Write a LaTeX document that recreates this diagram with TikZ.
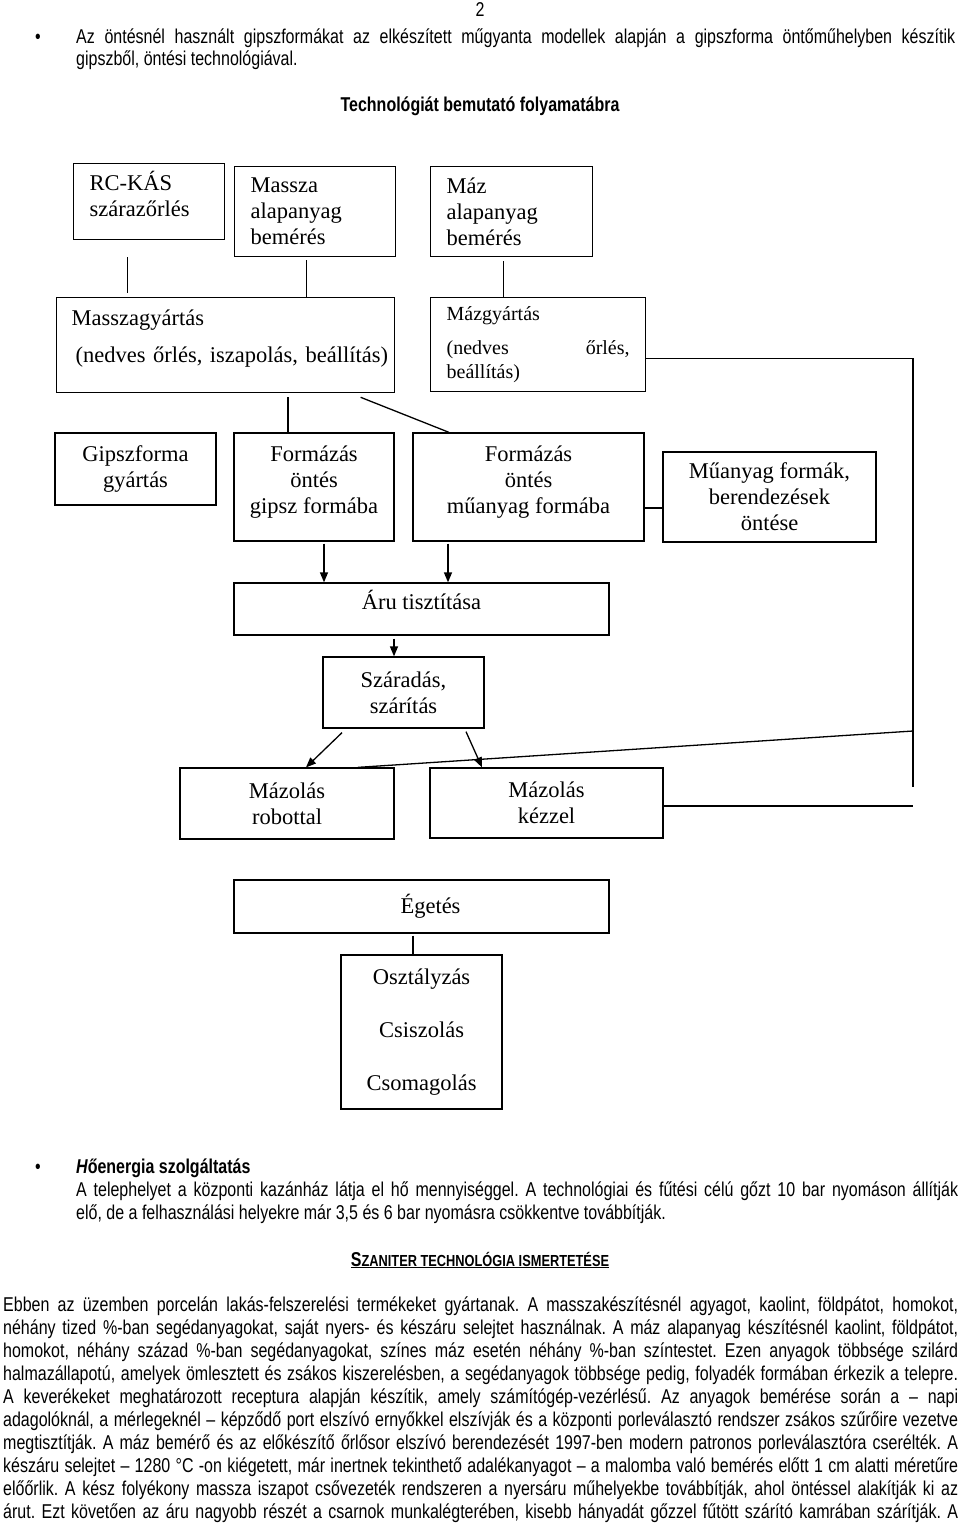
\documentclass[tikz,border=0pt]{standalone}
\usepackage{fontspec}
\setmainfont{Liberation Serif}
\newfontfamily\sansf{Liberation Sans}[FakeStretch=0.8]
\usetikzlibrary{positioning,arrows.meta}

\newcommand{\bodyfont}{\sansf\fontsize{20}{23}\selectfont\frenchspacing}
\newcommand{\flowfont}{\fontsize{22.5}{26}\selectfont}
\newcommand{\smallflowfont}{\fontsize{20}{24}\selectfont}
\newcommand{\jline}[2]{\makebox[#1pt][s]{#2}}

\begin{document}
\begin{tikzpicture}[x=1pt, y=-1pt]
    % Define styles
    \tikzstyle{box}=[rectangle, draw=black, line width=1.3pt, inner sep=0pt, align=center, font=\flowfont]
    \tikzstyle{lbox}=[box, anchor=north west, align=left, inner xsep=16pt]
    \tikzstyle{txt}=[inner sep=0pt, font=\bodyfont, anchor=base west]
    \tikzstyle{link}=[line width=1.3pt]
    \tikzstyle{arrow}=[->, line width=1.3pt, >={Triangle[length=10pt, width=8pt]}]

    \useasboundingbox (0,0) rectangle (960,1524);

    % Page head
    \node[txt, anchor=base] (pagenum) at (480,16) {2};
    \node[txt, anchor=base] (bullet1) at (38,43) {•};
    \node[txt] (intro1) at (76,43) {\jline{879}{Az öntésnél használt gipszformákat az elkészített műgyanta modellek alapján a gipszforma öntőműhelyben készítik}};
    \node[txt] (intro2) at (76,65) {gipszből, öntési technológiával.};
    \node[txt, anchor=base] (title) at (480,111) {\bfseries Technológiát bemutató folyamatábra};

    % Raw materials
    \node[lbox, text width=119pt, minimum height=76pt, text height=15pt, text depth=37pt] (rc) at (73,163) {RC-KÁS\\szárazőrlés};
    \node[lbox, text width=129pt, minimum height=90pt] (massza) at (234,166) {Massza\\alapanyag\\bemérés};
    \node[lbox, text width=130pt, minimum height=90pt] (maz) at (430,166) {Máz\\alapanyag\\bemérés};

    % Slip and glaze
    \node[lbox, inner xsep=15pt, text width=308pt, minimum height=95pt, text height=15pt, text depth=55pt] (masszagy) at (56,297) {Masszagyártás\\[11pt]\mbox{\hspace*{4pt}(nedves őrlés, iszapolás, beállítás)}};
    \node[lbox, text width=183pt, minimum height=94pt, font=\smallflowfont] (mazgy) at (430,297) {Mázgyártás\\[10pt]\makebox[183pt]{(nedves\hfill őrlés,}\\beállítás)};

    % Forming
    \node[box, minimum width=161pt, minimum height=72pt] (gipszf) at (135.5,469) {Gipszforma\\gyártás};
    \node[box, minimum width=160pt, minimum height=108pt, text depth=15pt] (formgipsz) at (314,487) {Formázás\\öntés\\gipsz formába};
    \node[box, minimum width=231pt, minimum height=108pt, text depth=15pt] (formmu) at (528.5,487) {Formázás\\öntés\\műanyag formába};
    \node[box, minimum width=213pt, minimum height=90pt] (muform) at (769.5,497) {Műanyag formák,\\berendezések\\öntése};

    % Finishing
    \node[box, minimum width=375pt, minimum height=52pt, text depth=19pt] (aru) at (421.5,609) {Áru tisztítása};
    \node[box, minimum width=161pt, minimum height=71pt] (szarad) at (403.5,692.5) {Száradás,\\szárítás};
    \node[box, minimum width=214pt, minimum height=71pt] (robot) at (287,803.5) {Mázolás\\robottal};
    \node[box, minimum width=233pt, minimum height=70pt] (kezzel) at (546.5,803) {Mázolás\\kézzel};
    \node[box, minimum width=375pt, minimum height=53pt] (eget) at (421.5,906.5) {\hspace*{18pt}Égetés};
    \node[box, minimum width=161pt, minimum height=154pt] (osztaly) at (421.5,1032) {Osztályzás\\[26.6pt]Csiszolás\\[26.6pt]Csomagolás};

    % Right side return line
    \coordinate (rside) at (913,787);
    \coordinate (rjoin) at (913,731);

    % Connections
    \draw[link, shorten <=17pt, shorten >=4pt] ([xshift=-21.5pt]rc.south) -- ([xshift=-21.5pt]rc.south |- masszagy.north);
    \draw[link, shorten <=3pt] ([xshift=-8.5pt]massza.south) -- ([xshift=-8.5pt]massza.south |- masszagy.north);
    \draw[link, shorten <=4pt] ([xshift=-8pt]maz.south) -- ([xshift=-8pt]maz.south |- mazgy.north);
    \draw[link, shorten <=4pt] ([xshift=-26pt]formgipsz.north |- masszagy.south) -- ([xshift=-26pt]formgipsz.north);
    \draw[link] ([shift={(135,4)}]masszagy.south) -- ([xshift=-79.5pt]formmu.north);
    \draw[link] ([yshift=-21pt]formmu.east) -- ([yshift=-21pt]formmu.east -| muform.west);
    \draw[link] ([yshift=-14pt]mazgy.east) -| (rside);
    \draw[link] (rjoin) -- ([xshift=71pt]robot.north);
    \draw[link] ([yshift=-3pt]kezzel.east) -- ([yshift=-3pt]kezzel.east -| rside);
    \draw[arrow, shorten <=2pt] ([xshift=10pt]formgipsz.south) -- ([xshift=10pt]formgipsz.south |- aru.north);
    \draw[arrow, shorten <=2pt] ([xshift=-80.5pt]formmu.south) -- ([xshift=-80.5pt]formmu.south |- aru.north);
    \draw[arrow, shorten <=3pt] ([xshift=-9.5pt]szarad.north |- aru.south) -- ([xshift=-9.5pt]szarad.north);
    \draw[arrow] ([shift={(-61.5,4)}]szarad.south) -- ([xshift=19pt]robot.north);
    \draw[arrow] ([shift={(62.5,3)}]szarad.south) -- ([xshift=-64.5pt]kezzel.north);
    \draw[link, shorten <=2pt] ([xshift=-8.5pt]eget.south) -- ([xshift=-8.5pt]eget.south |- osztaly.north);

    % Heat supply
    \node[txt, anchor=base] (bullet2) at (38,1173) {•};
    \node[txt] (heat) at (76,1173) {\bfseries{\itshape H}őenergia szolgáltatás};
    \node[txt] (heat1) at (76,1196) {\jline{882}{A telephelyet a központi kazánház látja el hő mennyiséggel. A technológiai és fűtési célú gőzt 10 bar nyomáson állítják}};
    \node[txt] (heat2) at (76,1219) {elő, de a felhasználási helyekre már 3,5 és 6 bar nyomásra csökkentve továbbítják.};

    % Description
    \node[txt, anchor=base] (sztitle) at (480,1266) {\bfseries\underline{\fontsize{20}{22}\selectfont S\fontsize{16}{18}\selectfont ZANITER TECHNOLÓGIA ISMERTETÉSE}};
    \node[txt] (para1) at (3,1311) {\jline{955}{Ebben az üzemben porcelán lakás-felszerelési termékeket gyártanak. A masszakészítésnél agyagot, kaolint, földpátot, homokot,}};
    \node[txt] (para2) at (3,1334) {\jline{955}{néhány tized \%-ban segédanyagokat, saját nyers- és készáru selejtet használnak. A máz alapanyag készítésnél kaolint, földpátot,}};
    \node[txt] (para3) at (3,1357) {\jline{955}{homokot, néhány század \%-ban segédanyagokat, színes máz esetén néhány \%-ban színtestet. Ezen anyagok többsége szilárd}};
    \node[txt] (para4) at (3,1380) {\jline{955}{halmazállapotú, amelyek ömlesztett és zsákos kiszerelésben, a segédanyagok többsége pedig, folyadék formában érkezik a telepre.}};
    \node[txt] (para5) at (3,1403) {\jline{955}{A keverékeket meghatározott receptura alapján készítik, amely számítógép-vezérlésű. Az anyagok bemérése során a – napi}};
    \node[txt] (para6) at (3,1426) {\jline{955}{adagolóknál, a mérlegeknél – képződő port elszívó ernyőkkel elszívják és a központi porleválasztó rendszer zsákos szűrőire vezetve}};
    \node[txt] (para7) at (3,1449) {\jline{955}{megtisztítják. A máz bemérő és az előkészítő őrlősor elszívó berendezését 1997-ben modern patronos porleválasztóra cserélték. A}};
    \node[txt] (para8) at (3,1472) {\jline{955}{készáru selejtet – 1280 °C -on kiégetett, már inertnek tekinthető adalékanyagot – a malomba való bemérés előtt 1 cm alatti méretűre}};
    \node[txt] (para9) at (3,1495) {\jline{955}{előőrlik. A kész folyékony massza iszapot csővezeték rendszeren a nyersáru műhelyekbe továbbítják, ahol öntéssel alakítják ki az}};
    \node[txt] (para10) at (3,1518) {\jline{955}{árut. Ezt követően az áru nagyobb részét a csarnok munkalégterében, kisebb hányadát gőzzel fűtött szárító kamrában szárítják. A}};
\end{tikzpicture}
\end{document}
